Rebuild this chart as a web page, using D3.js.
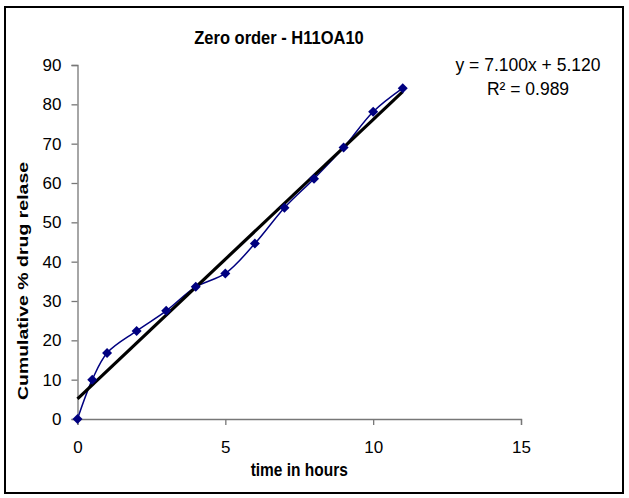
<!DOCTYPE html>
<html>
<head>
<meta charset="utf-8">
<script src="https://cdn.jsdelivr.net/npm/d3@7/dist/d3.min.js"></script>
<style>
  body { margin: 0; background: #fff; }
  svg { display: block; font-family: "Liberation Sans", Arial, sans-serif; }
</style>
</head>
<body>
<div id="chart"></div>
<script>
// data
var hours = [0, 0.5, 1, 2, 3, 4, 5, 6, 7, 8, 9, 10, 11];
var release = [0, 10.0, 16.8, 22.4, 27.5, 33.6, 37.0, 44.6, 53.7, 61.1, 69.0, 78.1, 84.1];
var xTicks = [0, 5, 10, 15];
var yTicks = [0, 10, 20, 30, 40, 50, 60, 70, 80, 90];
// trendline as printed on the chart
var slope = 7.100, intercept = 5.120, rSquared = 0.989;

var W = 629, H = 498;
var margin = {top: 65, right: 108, bottom: 79, left: 77.5};

var x = d3.scaleLinear().domain([0, 15]).range([margin.left, W - margin.right]);
var y = d3.scaleLinear().domain([0, 90]).range([H - margin.bottom, margin.top]);

var svg = d3.select('#chart').append('svg')
    .attr('width', W)
    .attr('height', H);

// outer chart frame
svg.append('rect')
    .attr('x', 5).attr('y', 7)
    .attr('width', 618).attr('height', 486)
    .attr('fill', 'none')
    .attr('stroke', '#000')
    .attr('stroke-width', 2);

// axes
var xAxis = svg.append('g')
    .attr('transform', 'translate(0,' + y(0) + ')')
    .call(d3.axisBottom(x).tickValues(xTicks).tickSize(6).tickPadding(16).tickFormat(d3.format('d')));
var yAxis = svg.append('g')
    .attr('transform', 'translate(' + x(0) + ',0)')
    .call(d3.axisLeft(y).tickValues(yTicks).tickSize(6).tickPadding(10).tickFormat(d3.format('d')));

[xAxis, yAxis].forEach(function (g) {
    g.select('.domain').attr('stroke', '#777').attr('stroke-width', 1.3);
    g.selectAll('.tick line').attr('stroke', '#777').attr('stroke-width', 1.3);
    g.selectAll('.tick text')
        .attr('fill', '#000')
        .style('font-size', '17px')
        .style('font-family', '"Liberation Sans", Arial, sans-serif');
});

// data series
var pts = hours.map(function (h, i) { return [h, release[i]]; });

svg.append('path')
    .datum(pts)
    .attr('fill', 'none')
    .attr('stroke', '#000080')
    .attr('stroke-width', 1.5)
    .attr('d', d3.line()
        .x(function (d) { return x(d[0]); })
        .y(function (d) { return y(d[1]); })
        .curve(d3.curveCatmullRom.alpha(0.5)));

// linear trendline
svg.append('line')
    .attr('x1', x(d3.min(hours))).attr('y1', y(intercept + slope * d3.min(hours)))
    .attr('x2', x(d3.max(hours))).attr('y2', y(intercept + slope * d3.max(hours)))
    .attr('stroke', '#000')
    .attr('stroke-width', 3.2);

// diamond markers
svg.selectAll('.pt')
    .data(pts)
    .enter().append('path')
    .attr('class', 'pt')
    .attr('transform', function (d) { return 'translate(' + x(d[0]) + ',' + y(d[1]) + ')'; })
    .attr('d', d3.symbol().type(d3.symbolDiamond2).size(64))
    .attr('fill', '#000080');

// titles
svg.append('text')
    .attr('transform', 'translate(279,44) scale(1,1.15)')
    .attr('text-anchor', 'middle')
    .style('font-size', '16.5px')
    .style('font-weight', 'bold')
    .text('Zero order - H11OA10');

svg.append('text')
    .attr('transform', 'translate(' + x(7.5) + ',476) scale(1,1.15)')
    .attr('text-anchor', 'middle')
    .style('font-size', '15.5px')
    .style('font-weight', 'bold')
    .text('time in hours');

svg.append('text')
    .attr('transform', 'translate(28,281) rotate(-90) scale(1.3,1)')
    .attr('text-anchor', 'middle')
    .style('font-size', '15px')
    .style('font-weight', 'bold')
    .text('Cumulative % drug relase');

// trendline equation
var eq = svg.append('text')
    .attr('text-anchor', 'middle')
    .style('font-size', '17.5px');
eq.append('tspan')
    .attr('x', 528).attr('y', 71)
    .text('y = ' + slope.toFixed(3) + 'x + ' + intercept.toFixed(3));
eq.append('tspan')
    .attr('x', 528).attr('y', 95)
    .text('R² = ' + rSquared.toFixed(3));
</script>
</body>
</html>
